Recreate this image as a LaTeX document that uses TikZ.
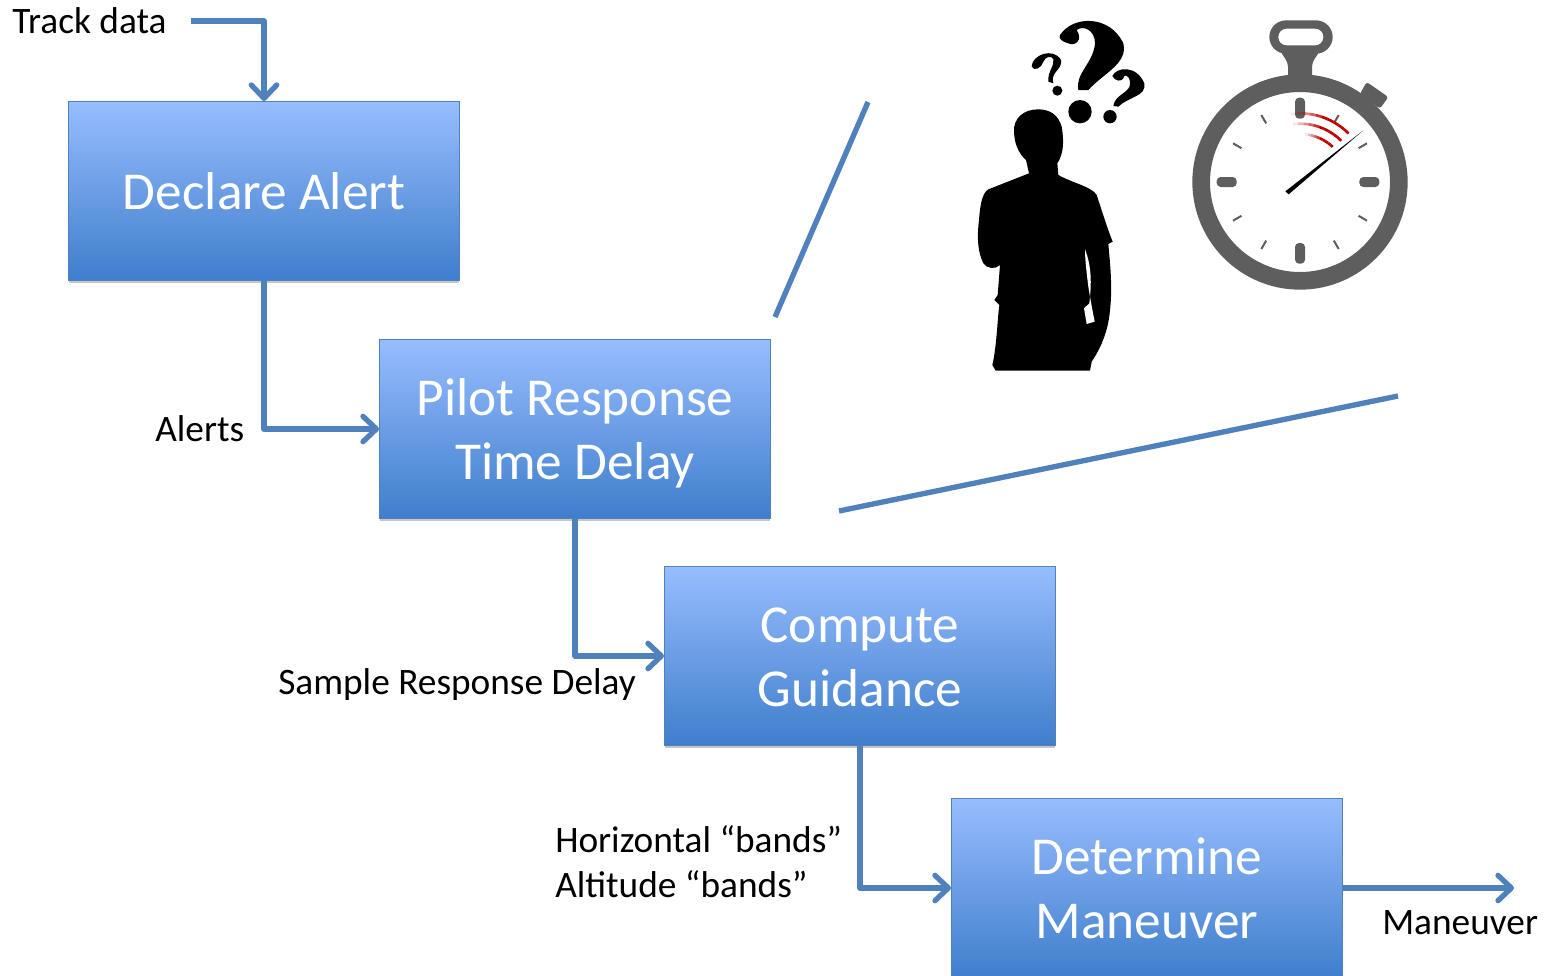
\documentclass[tikz,border=0pt]{standalone}
\usepackage{fontspec}
\setmainfont{Carlito}
\usetikzlibrary{positioning,calc,arrows.meta,shadows}
\definecolor{linkblue}{HTML}{4F81BD}
\definecolor{boxtop}{HTML}{97BDFE}
\definecolor{boxmid}{HTML}{7DA9EE}
\definecolor{boxbot}{HTML}{3F7ECC}
\definecolor{watchgray}{HTML}{5E5E5E}
\definecolor{arcred}{HTML}{C00000}
\newcommand{\firstline}{\rule{0pt}{38pt}}
\newcommand{\lastline}{\rule[-10pt]{0pt}{10pt}}
\tikzset{dbox/.style={rectangle, draw=linkblue, line width=1pt, minimum width=293pt, minimum height=134pt, inner sep=0pt, top color=boxtop, middle color=boxmid, bottom color=boxbot, text=white, align=center, font=\fontsize{40}{48}\selectfont, drop shadow={shadow xshift=0pt, shadow yshift=-2pt, opacity=0.45}}}
\tikzset{lbl/.style={anchor=west, inner sep=0pt, align=left, font=\fontsize{28}{33.75}\selectfont}}
\tikzset{arr/.style={draw=linkblue, line width=4pt, line join=round, -{Straight Barb[length=10pt,width=19pt,round]}}}
\tikzset{plainline/.style={draw=linkblue, line width=4pt}}
\tikzset{tick/.style={line width=1.5pt, watchgray}}
\begin{document}
\begin{tikzpicture}[x=0.75pt, y=-0.75pt]
	\clip (0,0) rectangle (1545,975);
	\node[dbox] (declare) at (264,191) {Declare Alert};
	\node[dbox] (pilot) at (575,429) {\firstline Pilot Response\\Time Delay\lastline};
	\node[dbox] (compute) at (860,656) {\firstline Compute\\Guidance\lastline};
	\node[dbox] (determine) at (1147,888) {\firstline Determine\\Maneuver\lastline};
	%
	\node[lbl] (track) at (12,21) {Track data};
	\node[lbl] (alerts) at (155,429) {Alerts};
	\node[lbl] (sample) at (278,685) {Sample Response Delay};
	\node[lbl] (bands) at (555,862) {Horizontal “bands”\\Altitude “bands”};
	\node[lbl] (maneuver) at (1382,923) {Maneuver};
	%
	\coordinate (trackstart) at (191,21);
	\coordinate (outend) at (1514,888);
	\draw[arr] (trackstart) -| (declare.north);
	\draw[arr] (declare.south) |- (pilot.west);
	\draw[arr] (pilot.south) |- (compute.west);
	\draw[arr] (compute.south) |- (determine.west);
	\draw[arr] (determine.east) -- (outend);
	%
	\coordinate (zoomA) at (868,102);
	\coordinate (zoomB) at (775,317);
	\coordinate (zoomC) at (839,511);
	\coordinate (zoomD) at (1398,396);
	\draw[plainline] (zoomA) -- (zoomB);
	\draw[plainline] (zoomC) -- (zoomD);
	% person
	\begin{scope}[xshift=720pt, x=0.25pt, y=-0.25pt]
		\fill[black] (235,328) .. controls (190,328) and (160,355) .. (162,395)
			.. controls (163,430) and (175,460) .. (198,480) -- (207,520) -- (85,568)
			.. controls (65,580) and (60,620) .. (57,660) .. controls (52,700) and (50,750) .. (70,790)
			.. controls (80,805) and (105,810) .. (120,795) -- (113,885) -- (103,900) -- (118,915)
			.. controls (112,960) and (110,1040) .. (97,1095) -- (107,1112) -- (390,1112) -- (395,1085)
			.. controls (425,1040) and (445,990) .. (450,930) .. controls (458,860) and (450,790) .. (445,732)
			-- (458,725) .. controls (440,680) and (425,630) .. (410,585)
			.. controls (395,560) and (340,550) .. (295,525) -- (292,490)
			.. controls (312,460) and (312,420) .. (305,380) .. controls (295,345) and (270,328) .. (235,328) -- cycle;
		\fill[white] (375,748) .. controls (395,800) and (395,850) .. (388,910) -- (372,925) -- (380,972) -- (404,965)
			.. controls (395,920) and (390,890) .. (385,860) .. controls (380,820) and (375,780) .. (375,748) -- cycle;
		% question marks
		\fill[black] (300,105) .. controls (340,45) and (450,45) .. (490,130) .. controls (505,190) and (430,220) .. (385,270) -- (355,270)
			.. controls (345,220) and (400,190) .. (405,130) .. controls (405,90) and (370,75) .. (350,90)
			.. controls (370,120) and (345,140) .. (325,130) .. controls (305,125) and (295,115) .. (300,105) -- cycle;
		\fill[black] (360,335) circle (35);
		\fill[black] (215,200) .. controls (215,165) and (280,140) .. (303,180) .. controls (308,210) and (270,215) .. (280,250) -- (265,245)
			.. controls (262,215) and (285,195) .. (280,178) .. controls (275,165) and (255,170) .. (250,185) .. controls (245,205) and (220,215) .. (215,200) -- cycle;
		\fill[black] (292,272) circle (15);
		\fill[black] (457,228) .. controls (470,200) and (530,195) .. (553,250) .. controls (560,290) and (505,290) .. (475,320) -- (460,318)
			.. controls (465,280) and (515,280) .. (510,245) .. controls (505,220) and (490,225) .. (490,235) .. controls (485,245) and (465,245) .. (457,228) -- cycle;
		\fill[black] (450,350) circle (20);
	\end{scope}
	% stopwatch
	\coordinate (watch) at (1300,182);
	\begin{scope}[shift={(watch)}, x=0.25pt, y=0.25pt]
		\fill[watchgray, even odd rule] (0,0) circle (323) (0,0) circle (270);
		\fill[watchgray] (-36,275) -- (-36,345) .. controls (-36,365) and (-50,375) .. (-60,395) -- (60,395) .. controls (50,375) and (36,365) .. (36,345) -- (36,275) -- cycle;
		\fill[watchgray, even odd rule, rounded corners=12.5pt] (-92,385) rectangle (98,485) [rounded corners=6pt] (-65,410) rectangle (70,460);
		\fill[watchgray, rounded corners=2pt] (200,300) -- (265,255) -- (240,220) -- (180,265) -- cycle;
		\fill[watchgray, rounded corners=3pt] (-15,190) rectangle (15,253);
		\fill[watchgray, rounded corners=3pt] (-15,-245) rectangle (15,-183);
		\fill[watchgray, rounded corners=3pt] (-250,-15) rectangle (-190,15);
		\fill[watchgray, rounded corners=3pt] (178,-15) rectangle (238,15);
		\foreach \ang in {30,60,120,150,210,240,300,330}
			\draw[tick] (\ang:203) -- (\ang:232);
		\foreach \rad/\astart/\astop in {206/98/45, 175/97/45, 144/84/47}
			\foreach \i in {0,...,9} {
				\pgfmathsetmacro{\aone}{\astart+(\astop-\astart)*\i/10}
				\pgfmathsetmacro{\atwo}{\astart+(\astop-\astart)*(\i+1)/10}
				\pgfmathsetmacro{\aop}{min(1,0.1+\i*0.18)}
				\draw[arcred, line width=2pt, opacity=\aop] (\aone:\rad) arc[start angle=\aone, end angle=\atwo, radius=\rad];
			}
		\fill[black] (-44,-28) -- (-34,-37) -- (190,155) -- cycle;
	\end{scope}
\end{tikzpicture}
\end{document}
